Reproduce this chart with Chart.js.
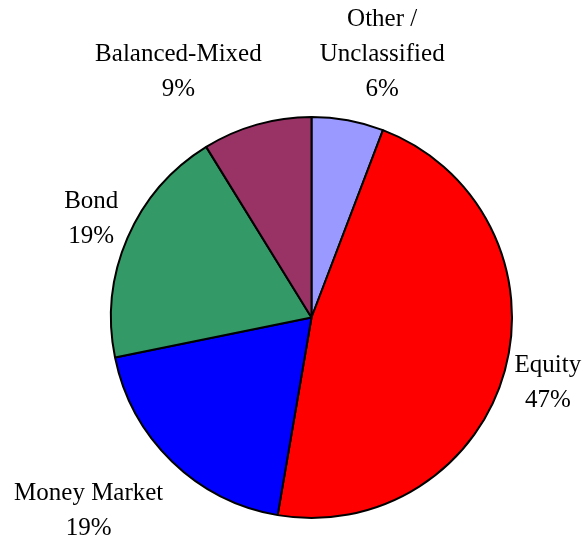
<!DOCTYPE html>
<html>
<head>
<meta charset="utf-8">
<script src="https://cdn.jsdelivr.net/npm/chart.js@4/dist/chart.umd.min.js"></script>
<style>
  html, body { margin: 0; padding: 0; background: #ffffff; }
  #wrap { width: 583px; height: 540px; position: relative; }
</style>
</head>
<body>
<div id="wrap"><canvas id="c" width="583" height="540"></canvas></div>
<script>
// ---- data ----
const categories = ["Other / Unclassified", "Equity", "Money Market", "Bond", "Balanced-Mixed"];
const labelLines = [["Other /", "Unclassified"], ["Equity"], ["Money Market"], ["Bond"], ["Balanced-Mixed"]];
const shares = [5.8, 46.9, 19.1, 19.4, 8.8];
const pctLabels = ["6%", "47%", "19%", "19%", "9%"];
const colors = ["#9999FF", "#FF0000", "#0000FF", "#339966", "#993366"];

const labelFont = '25px "Liberation Serif", "DejaVu Serif", serif';
const lineHeight = 35;
const labelGap = 10;
// per-label fine nudges (layout only)
const nudges = [[21, -4], [0, 0], [-4, 7], [0, 0], [-52, -8]];

const outsideLabels = {
  id: 'outsideLabels',
  afterDatasetsDraw(chart) {
    const ctx = chart.ctx;
    const meta = chart.getDatasetMeta(0);
    ctx.save();
    ctx.font = labelFont;
    ctx.fillStyle = '#000000';
    ctx.textAlign = 'center';
    ctx.textBaseline = 'middle';
    meta.data.forEach((arc, i) => {
      const p = arc.getProps(['x', 'y', 'startAngle', 'endAngle', 'outerRadius'], true);
      const mid = (p.startAngle + p.endAngle) / 2;
      const dx = Math.cos(mid), dy = Math.sin(mid);
      const r = p.outerRadius + labelGap;
      const px = p.x + r * dx, py = p.y + r * dy;
      const lines = labelLines[i].concat([pctLabels[i]]);
      let w = 0;
      lines.forEach(t => { w = Math.max(w, ctx.measureText(t).width); });
      const h = lines.length * lineHeight;
      const m = Math.max(Math.abs(dx), Math.abs(dy));
      const cx = px + (w / 2) * dx / m + nudges[i][0];
      const cy = py + (h / 2) * dy / m + nudges[i][1];
      lines.forEach((t, k) => {
        ctx.fillText(t, cx, cy + (k - (lines.length - 1) / 2) * lineHeight);
      });
    });
    ctx.restore();
  }
};

new Chart(document.getElementById('c'), {
  type: 'pie',
  data: {
    labels: categories,
    datasets: [{
      data: shares,
      backgroundColor: colors,
      borderColor: '#000000',
      borderWidth: 2
    }]
  },
  options: {
    responsive: false,
    animation: false,
    layout: { padding: { left: 110, right: 70, top: 116, bottom: 21 } },
    plugins: {
      legend: { display: false },
      tooltip: { enabled: false }
    }
  },
  plugins: [outsideLabels]
});
</script>
</body>
</html>
